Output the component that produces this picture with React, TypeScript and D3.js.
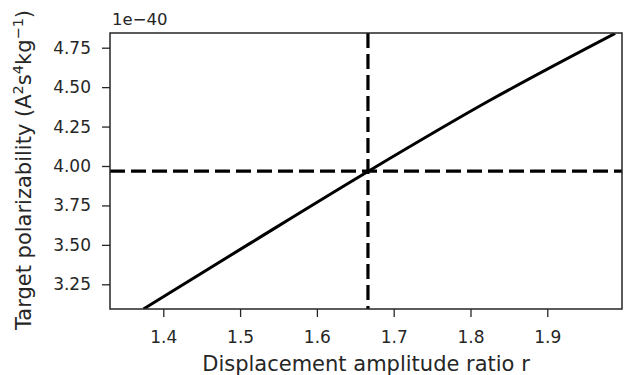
import React, { useEffect, useRef } from 'react';
import * as d3 from 'd3';

// displacement amplitude ratio r
const ratio = [1.3742, 1.5129, 1.6665, 1.8254, 1.9883];
// target polarizability, in units of 1e-40
const polarizability = [3.0937, 3.5095, 3.9652, 4.4165, 4.8405];

const xTicks = [1.4, 1.5, 1.6, 1.7, 1.8, 1.9];
const yTicks = [3.25, 3.5, 3.75, 4.0, 4.25, 4.5, 4.75];

const xDomain = [1.3306, 1.9973];
const yDomain = [3.0934, 4.8432];

// marked operating point
const rStar = 1.6665;
const alphaStar = 3.968;

const App = () => {
  const svgRef = useRef<SVGSVGElement>(null);

  useEffect(() => {
    const W = 625;
    const H = 375;
    const margin = { top: 33, right: 3, bottom: 66, left: 110 };
    const width = W - margin.left - margin.right;
    const height = H - margin.top - margin.bottom;
    const font = 'DejaVu Sans, sans-serif';
    const ink = '#262626';

    const svg = d3.select(svgRef.current);
    svg.selectAll('*').remove();

    const x = d3.scaleLinear().domain(xDomain).range([0, width]);
    const y = d3.scaleLinear().domain(yDomain).range([height, 0]);

    svg.append('defs').append('clipPath').attr('id', 'plot-clip')
      .append('rect').attr('width', width).attr('height', height);

    const g = svg.append('g').attr('transform', `translate(${margin.left},${margin.top})`);

    // Axes
    const xAxis = g.append('g')
      .attr('transform', `translate(0,${height})`)
      .call(d3.axisBottom(x).tickValues(xTicks).tickFormat(d3.format('.1f')).tickSize(8).tickPadding(14));
    const yAxis = g.append('g')
      .call(d3.axisLeft(y).tickValues(yTicks).tickFormat(d3.format('.2f')).tickSize(8).tickPadding(11));

    [xAxis, yAxis].forEach(a => {
      a.select('.domain').remove();
      a.selectAll('line').attr('stroke', ink).attr('stroke-width', 1.3);
      a.selectAll('text').attr('fill', ink).style('font-family', font).style('font-size', '17px');
    });

    // Lines
    const plot = g.append('g').attr('clip-path', 'url(#plot-clip)');

    const line = d3.line<number>()
      .x((d, i) => x(ratio[i]))
      .y(d => y(d))
      .curve(d3.curveMonotoneX);

    plot.append('path')
      .datum(polarizability)
      .attr('fill', 'none')
      .attr('stroke', '#000')
      .attr('stroke-width', 3)
      .attr('d', line);

    plot.append('line')
      .attr('x1', x(rStar)).attr('x2', x(rStar))
      .attr('y1', 0).attr('y2', height)
      .attr('stroke', '#000').attr('stroke-width', 3.2)
      .attr('stroke-dasharray', '15 6');

    plot.append('line')
      .attr('x1', 0).attr('x2', width)
      .attr('y1', y(alphaStar)).attr('y2', y(alphaStar))
      .attr('stroke', '#000').attr('stroke-width', 3.2)
      .attr('stroke-dasharray', '15 6');

    // Frame
    g.append('rect')
      .attr('width', width).attr('height', height)
      .attr('fill', 'none').attr('stroke', ink).attr('stroke-width', 1.5);

    // Offset text
    g.append('text')
      .attr('x', 2).attr('y', -8)
      .attr('fill', ink)
      .style('font-family', font).style('font-size', '16.5px')
      .text('1e\u221240');

    // Axis labels
    svg.append('text')
      .attr('x', margin.left + width / 2).attr('y', 371)
      .attr('text-anchor', 'middle')
      .attr('fill', ink)
      .style('font-family', font).style('font-size', '21px')
      .text('Displacement amplitude ratio r');

    const yl = svg.append('text')
      .attr('transform', `translate(31,${margin.top + height / 2 - 1}) rotate(-90)`)
      .attr('text-anchor', 'middle')
      .attr('fill', ink)
      .style('font-family', font).style('font-size', '21px');
    yl.append('tspan').text('Target polarizability (A');
    yl.append('tspan').attr('dy', -8).style('font-size', '14.5px').text('2');
    yl.append('tspan').attr('dy', 8).text('s');
    yl.append('tspan').attr('dy', -8).style('font-size', '14.5px').text('4');
    yl.append('tspan').attr('dy', 8).text('kg');
    yl.append('tspan').attr('dy', -8).style('font-size', '14.5px').text('\u22121');
    yl.append('tspan').attr('dy', 8).text(')');
  }, []);

  return (
    <svg
      ref={svgRef}
      width={625}
      height={375}
      style={{ position: 'absolute', left: 0, top: 0, background: '#fff' }}
    />
  );
};

export default App;
